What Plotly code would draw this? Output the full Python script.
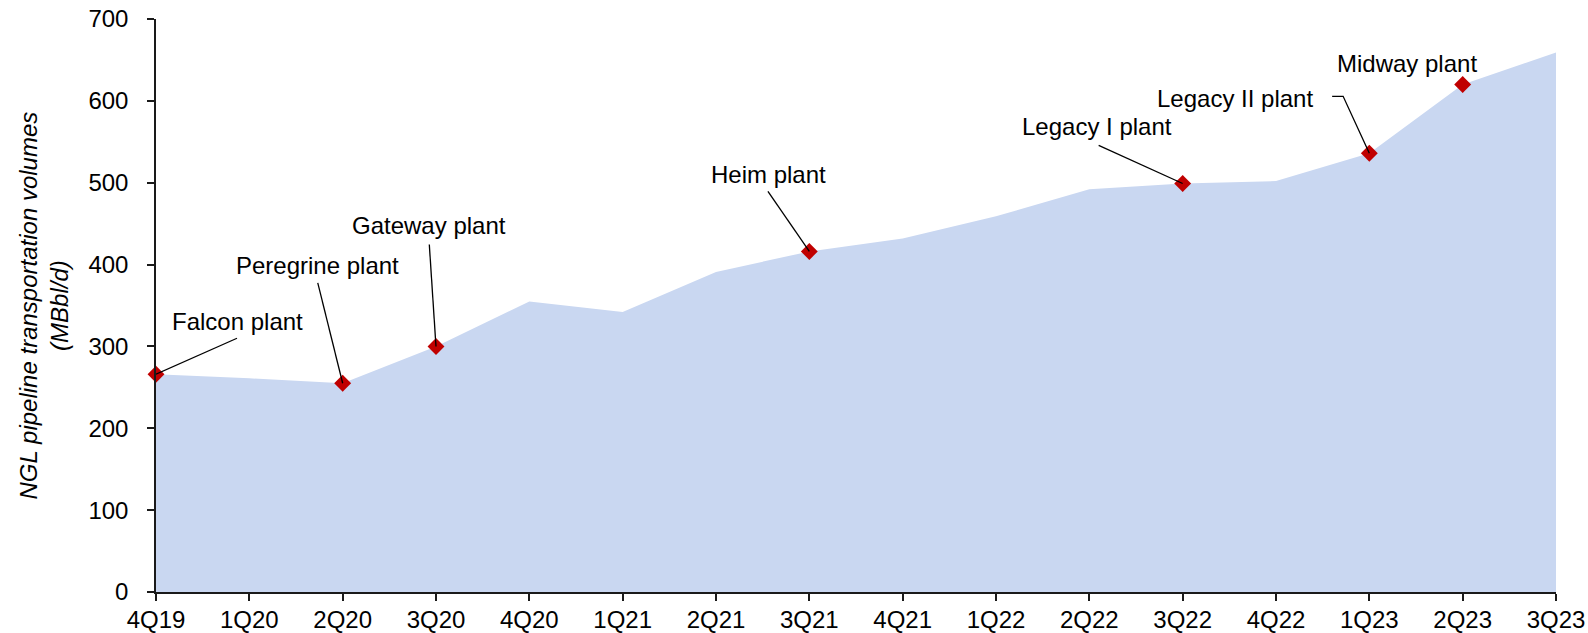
import plotly.graph_objects as go

# ---------------- data ----------------
quarters = ["4Q19", "1Q20", "2Q20", "3Q20", "4Q20", "1Q21", "2Q21", "3Q21",
            "4Q21", "1Q22", "2Q22", "3Q22", "4Q22", "1Q23", "2Q23", "3Q23"]
volumes = [266, 261, 255, 300, 355, 342, 391, 416,
           432, 459, 492, 499, 502, 536, 620, 659]
plant_names = ["Falcon plant", "Peregrine plant", "Gateway plant", "Heim plant",
               "Legacy I plant", "Legacy II plant", "Midway plant"]
plant_quarters = ["4Q19", "2Q20", "3Q20", "3Q21", "3Q22", "1Q23", "2Q23"]
y_ticks = [0, 100, 200, 300, 400, 500, 600, 700]

# ---------------- styling / label placement (pixel offsets from marker) ----------------
FONT = "Liberation Sans, Arial, sans-serif"
FS = 24
AREA_COLOR = "#C9D7F1"
MARKER_COLOR = "#C00000"
# text centre offset (dx, dy up) and leader path in pixels (dy up positive)
label_style = {
    "Falcon plant":    dict(text=(81.7, 53), path=[(0, 0), (81, 36)]),
    "Peregrine plant": dict(text=(-24.8, 117.7), path=[(0, 0), (-24.9, 100.3)]),
    "Gateway plant":   dict(text=(-7, 120.6), path=[(0, 0), (-6.7, 102)]),
    "Heim plant":      dict(text=(-40.8, 76.7), path=[(0, 0), (-41.4, 60.2)]),
    "Legacy I plant":  dict(text=(-85.3, 56.9), path=[(0, 0), (-84, 38.2)]),
    "Legacy II plant": dict(text=(-134.2, 55.1), path=[(0, 0), (-26.2, 56.9), (-37.2, 56.9)]),
    "Midway plant":    dict(text=(-55.5, 20.9), path=None),
}

x_idx = list(range(len(quarters)))
plant_idx = [quarters.index(q) for q in plant_quarters]
plant_vals = [volumes[i] for i in plant_idx]

fig = go.Figure()
fig.add_trace(go.Scatter(
    x=x_idx, y=volumes, mode="lines", fill="tozeroy",
    fillcolor=AREA_COLOR, line=dict(width=0, color=AREA_COLOR),
    hoverinfo="skip", showlegend=False))
fig.add_trace(go.Scatter(
    x=plant_idx, y=plant_vals, mode="markers",
    marker=dict(symbol="diamond", size=13, color=MARKER_COLOR, line=dict(width=0)),
    cliponaxis=False, showlegend=False, text=plant_names))

annotations = []
shapes = []
for name, xi, v in zip(plant_names, plant_idx, plant_vals):
    st = label_style[name]
    dx, dy = st["text"]
    annotations.append(dict(
        x=xi, y=v, xref="x", yref="y", text=name, showarrow=False,
        xshift=dx, yshift=dy, xanchor="center", yanchor="middle",
        font=dict(family=FONT, size=FS, color="#000000")))
    if st["path"]:
        pts = st["path"]
        d = "M" + " L".join(f"{px},{py}" for px, py in pts)
        shapes.append(dict(
            type="path", path=d, xref="x", yref="y",
            xsizemode="pixel", ysizemode="pixel", xanchor=xi, yanchor=v,
            line=dict(color="#000000", width=1.3), layer="above"))

annotations.append(dict(
    text="NGL pipeline transportation volumes<br>(MBbl/d)",
    textangle=-90, xref="paper", yref="paper", x=0, y=0.5,
    xshift=-113, xanchor="center", yanchor="middle", showarrow=False,
    font=dict(family=FONT, size=FS, color="#000000", style="italic")))

fig.update_layout(
    width=1588, height=633,
    margin=dict(l=156, r=32, t=19, b=41),
    paper_bgcolor="white", plot_bgcolor="white",
    font=dict(family=FONT, size=FS, color="#000000"),
    annotations=annotations, shapes=shapes, showlegend=False,
    xaxis=dict(
        range=[0, len(quarters) - 1], tickvals=x_idx, ticktext=quarters,
        automargin=False,
        showgrid=False, zeroline=False, showline=True,
        linecolor="#1a1a1a", linewidth=1.5,
        ticks="outside", ticklen=7, tickwidth=1.5, tickcolor="#1a1a1a",
        ticklabelstandoff=-2,
        tickfont=dict(family=FONT, size=FS, color="#000000")),
    yaxis=dict(
        range=[0, 700], tickvals=y_ticks, automargin=False,
        showgrid=False, zeroline=False, showline=True,
        linecolor="#1a1a1a", linewidth=1.5,
        ticks="outside", ticklen=7, tickwidth=1.5, tickcolor="#1a1a1a",
        ticklabelstandoff=14,
        tickfont=dict(family=FONT, size=FS, color="#000000")),
)

fig.write_html("out.html",
               config={"displayModeBar": False},
               post_script="document.body.style.margin='0';document.body.style.overflow='hidden';")
